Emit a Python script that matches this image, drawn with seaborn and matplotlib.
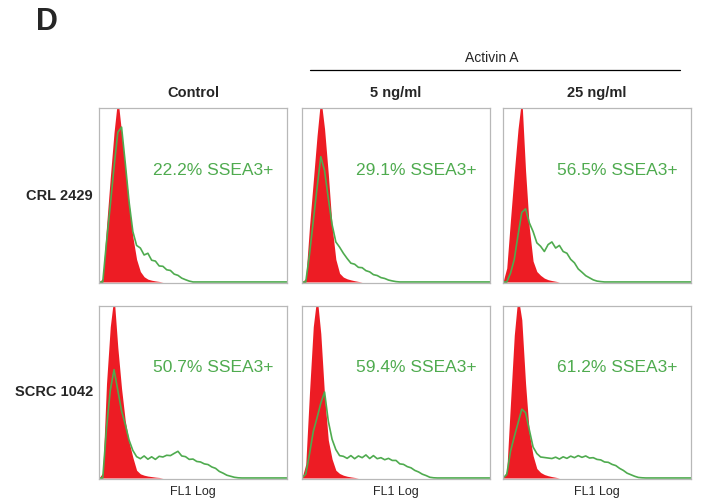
"""Flow cytometry panel D: SSEA3 staining of CRL 2429 / SCRC 1042 with Activin A."""

import matplotlib

matplotlib.use("Agg")
import matplotlib.pyplot as plt
import numpy as np
import seaborn as sns
from matplotlib.lines import Line2D

sns.set_style("white")
plt.rcParams["font.family"] = ["Liberation Sans", "DejaVu Sans"]

RED = "#ed1c24"
GREEN = "#4fab4f"

# FL1 channel bins (log-amplified, 0-1000), step 20
CHANNEL_STEP = 20
N_BINS = 51

CONDITIONS = ["Control", "5 ng/ml", "25 ng/ml"]
CELL_LINES = ["CRL 2429", "SCRC 1042"]
PERCENT = [["22.2%", "29.1%", "56.5%"], ["50.7%", "59.4%", "61.2%"]]

# isotype control (red filled), counts as % of panel height
red_crl_ctrl = [0, 2, 32, 60, 86, 106, 86, 66, 45, 26, 13, 6, 3, 1.6, 1, 0.6, 0.3]
red_crl_5 = [0, 2, 32, 58, 84, 106, 88, 62, 32, 13, 5, 2.8, 1.8, 1.2, 0.7, 0.3]
red_crl_25 = [0, 8, 36, 63, 88, 106, 64, 31, 12, 6, 3.8, 2.2, 1.3, 0.8, 0.4]
red_scrc_ctrl = [0, 3, 55, 88, 106, 76, 52, 33, 21, 12, 4.5, 2.4, 1.6, 1.1, 0.8, 0.5, 0.3]
red_scrc_5 = [0, 8, 50, 88, 106, 84, 48, 22, 11, 4.5, 2.6, 1.6, 1, 0.6, 0.3]
red_scrc_25 = [0, 4, 44, 83, 106, 92, 55, 26, 13, 5.5, 3.2, 2, 1.3, 0.8, 0.4]

# SSEA3 stained (green outline)
green_crl_ctrl = [0, 0, 23, 44, 66, 86, 89, 68, 46, 29, 21, 19.5, 15.5, 16.5, 12.5, 12,
                  9.2, 9, 7, 6.6, 4.5, 3.8, 2.2, 1.3, 0.5]
green_crl_5 = [0, 0, 16, 35, 54, 72, 64, 48, 33, 23, 20, 16.5, 13.5, 10.8, 10.2, 8.4,
               8.2, 6.5, 5.8, 4.2, 3.7, 2.5, 2, 1.1, 0.6, 0.2]
green_crl_25 = [0, 0, 5, 13, 27, 40, 42, 34, 29, 22.5, 20.5, 17.5, 21.5, 23, 19.5, 21,
                17.5, 16.5, 13, 11, 7.5, 5.6, 3.6, 2.4, 1.2, 0.5, 0.2]
green_scrc_ctrl = [0, 0, 29, 51, 63, 51, 39, 31, 22, 16, 12.4, 11.2, 12.8, 10.9, 12.3,
                   10.8, 12.6, 12.2, 13.2, 13, 14.3, 15.5, 12.8, 12.4, 10.8, 11, 9.6,
                   9.3, 8.2, 7.8, 6.4, 5.6, 3.8, 2.8, 1.6, 1, 0.4, 0.1]
green_scrc_5 = [0, 2.3, 14, 27, 35, 43.5, 50, 33, 22.5, 16.5, 13, 12.6, 11.4, 13,
                11.2, 12.8, 11.8, 13.4, 11.3, 13, 11.2, 11.8, 10.6, 11.4, 10.2, 10.2,
                8.2, 7.9, 6.6, 5.9, 4.4, 3.5, 2.2, 1.4, 0.4, 0.1]
green_scrc_25 = [0, 2, 15.5, 24, 32, 40, 38, 28, 18, 14.2, 12.2, 11.9, 11.6, 11.3,
                 12.1, 11, 12.3, 11.4, 12.7, 11.8, 13, 12, 12.8, 11.6, 11.8, 10.8,
                 10.5, 9.3, 9.1, 7.9, 7.2, 5.6, 4.4, 2.8, 1.9, 1, 0.3, 0.1]

RED_SERIES = [[red_crl_ctrl, red_crl_5, red_crl_25],
              [red_scrc_ctrl, red_scrc_5, red_scrc_25]]
GREEN_SERIES = [[green_crl_ctrl, green_crl_5, green_crl_25],
                [green_scrc_ctrl, green_scrc_5, green_scrc_25]]

W, H = 701, 500
COL_LEFT = [99, 302, 503]
COL_W = 188
ROW_TOP = [108, 306]
ROW_H = [175, 173]

channel = np.arange(N_BINS) * CHANNEL_STEP


def pad(values):
    out = np.zeros(N_BINS)
    out[: len(values)] = values
    return out


def fx(px):
    return px / W


def fy(py):
    return 1 - py / H


fig = plt.figure(figsize=(W / 100, H / 100), dpi=100)

for r in range(2):
    for c in range(3):
        rect = [fx(COL_LEFT[c]), fy(ROW_TOP[r] + ROW_H[r]), COL_W / W, ROW_H[r] / H]
        ax = fig.add_axes(rect)
        red = pad(RED_SERIES[r][c])
        green = pad(GREEN_SERIES[r][c])
        ax.fill_between(channel, red, color=RED, lw=0)
        sns.lineplot(x=channel, y=green, color=GREEN, lw=1.2, ax=ax)
        ax.set_xlim(0, 1000)
        ax.set_ylim(-0.6, 100)
        ax.set_xticks(np.arange(125, 1000, 125))
        ax.set_yticks([])
        ax.tick_params(axis="x", direction="in", length=2.5, color="#cfcfcf",
                       labelbottom=False, width=0.8)
        for s in ax.spines.values():
            s.set_color("#b8b8b8")
            s.set_linewidth(0.9)
        ax.text(0.61, 0.645, f"{PERCENT[r][c]} SSEA3+", color=GREEN, fontsize=12.5,
                ha="center", va="center", transform=ax.transAxes)

# labels
fig.text(fx(47), fy(22), "D", fontsize=22, fontweight="bold", ha="center", va="center")
fig.text(fx(492), fy(58), "Activin A", fontsize=10, ha="center", va="center")
fig.add_artist(Line2D([fx(310), fx(680)], [fy(70), fy(70)], color="black", lw=0.9))

for c, name in enumerate(CONDITIONS):
    cx = COL_LEFT[c] + COL_W / 2
    fig.text(fx(cx), fy(93), name, fontsize=10.5, fontweight="bold",
             ha="center", va="center")
    fig.text(fx(cx), fy(492), "FL1 Log", fontsize=9, ha="center", va="center")

for r, name in enumerate(CELL_LINES):
    cy = ROW_TOP[r] + ROW_H[r] / 2
    fig.text(fx(93), fy(cy), name, fontsize=10.5, fontweight="bold",
             ha="right", va="center")

fig.savefig("out.png", dpi=100)
